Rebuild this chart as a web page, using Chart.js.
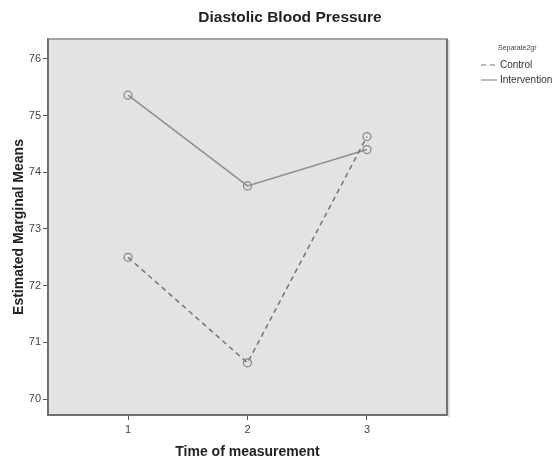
<!DOCTYPE html>
<html>
<head>
<meta charset="utf-8">
<script src="https://cdn.jsdelivr.net/npm/chart.js@4/dist/chart.umd.min.js"></script>
<style>
  html, body { margin: 0; padding: 0; background: #ffffff; }
  #wrap { width: 556px; height: 459px; position: relative; }
</style>
</head>
<body>
<div id="wrap"><canvas id="c" width="556" height="459"></canvas></div>
<script>
// ---- data ----
const chartTitle = "Diastolic Blood Pressure";
const legendTitle = "Separate2gr";
const categories = [1, 2, 3];
const seriesNames = ["Control", "Intervention"];
const controlValues = [72.50, 70.64, 74.63];
const interventionValues = [75.36, 73.76, 74.40];
const yTickValues = [70, 71, 72, 73, 74, 75, 76];
const xTickValues = [1, 2, 3];
const xTitle = "Time of measurement";
const yTitle = "Estimated Marginal Means";

const FONT = "'Liberation Sans', Arial, sans-serif";

const toPoints = (vals) => categories.map((c, i) => ({ x: c, y: vals[i] }));

const plotBg = {
  id: 'plotBg',
  beforeDraw(chart) {
    const { ctx, chartArea: a } = chart;
    ctx.save();
    ctx.fillStyle = '#e2e3e5';
    ctx.fillRect(a.left, a.top, a.right - a.left, a.bottom - a.top);
    ctx.restore();
  },
  afterDatasetsDraw(chart) {
    const { ctx, chartArea: a } = chart;
    ctx.save();
    ctx.strokeStyle = '#8a8a8a';
    ctx.lineWidth = 1.5;
    ctx.strokeRect(a.left, a.top, a.right - a.left, a.bottom - a.top);
    ctx.strokeStyle = '#666';
    ctx.lineWidth = 1.5;
    ctx.beginPath();
    ctx.moveTo(a.left, a.top);
    ctx.lineTo(a.left, a.bottom);
    ctx.lineTo(a.right, a.bottom);
    ctx.moveTo(a.right, a.top);
    ctx.lineTo(a.right, a.bottom);
    ctx.stroke();
    ctx.strokeStyle = '#bdbdbd';
    ctx.lineWidth = 1;
    ctx.beginPath();
    ctx.moveTo(a.right + 2, a.top + 1);
    ctx.lineTo(a.right + 2, a.bottom + 2);
    ctx.stroke();
    ctx.restore();
  }
};

const textPlugin = {
  id: 'textPlugin',
  afterDraw(chart) {
    const { ctx } = chart;
    ctx.save();
    // main title
    ctx.fillStyle = '#222';
    ctx.font = `bold 15.5px ${FONT}`;
    ctx.textAlign = 'center';
    ctx.textBaseline = 'middle';
    ctx.fillText(chartTitle, 290, 18);
    // legend
    ctx.textAlign = 'left';
    ctx.fillStyle = '#444';
    ctx.font = `7px ${FONT}`;
    ctx.fillText(legendTitle, 498, 48);
    const ds = chart.data.datasets;
    const rows = [65, 80];
    ds.forEach((d, i) => {
      const y = rows[i];
      ctx.strokeStyle = d.borderColor;
      ctx.lineWidth = 1.2;
      ctx.setLineDash(d.borderDash || []);
      ctx.beginPath();
      ctx.moveTo(481, y);
      ctx.lineTo(497, y);
      ctx.stroke();
      ctx.setLineDash([]);
      ctx.fillStyle = '#333';
      ctx.font = `10px ${FONT}`;
      ctx.fillText(d.label, 500, y);
    });
    ctx.restore();
  }
};

new Chart(document.getElementById('c'), {
  type: 'line',
  data: {
    datasets: [
      {
        label: seriesNames[0],
        data: toPoints(controlValues),
        borderColor: '#727272',
        borderWidth: 1.5,
        borderDash: [5, 4],
        pointRadius: 4,
        pointBorderColor: '#858585',
        pointBackgroundColor: 'rgba(0,0,0,0)',
        pointBorderWidth: 1.2,
        fill: false,
        tension: 0
      },
      {
        label: seriesNames[1],
        data: toPoints(interventionValues),
        borderColor: '#8e8e8e',
        borderWidth: 1.5,
        pointRadius: 4,
        pointBorderColor: '#858585',
        pointBackgroundColor: 'rgba(0,0,0,0)',
        pointBorderWidth: 1.2,
        fill: false,
        tension: 0
      }
    ]
  },
  options: {
    responsive: false,
    animation: false,
    layout: { padding: { left: 0, top: 39, right: 109, bottom: 0 } },
    plugins: {
      legend: { display: false },
      title: { display: false },
      tooltip: { enabled: false }
    },
    scales: {
      x: {
        type: 'linear',
        min: 0.33,
        max: 3.67,
        afterBuildTicks(scale) { scale.ticks = xTickValues.map(v => ({ value: v })); },
        afterFit(scale) { scale.height = 44; },
        grid: { drawOnChartArea: false, drawTicks: true, tickLength: 5, color: '#555', lineWidth: 1 },
        border: { display: true, color: '#666', width: 1.5 },
        ticks: { color: '#444', font: { family: FONT, size: 11 }, padding: 3, maxRotation: 0,
                 callback: v => String(v) },
        title: { display: true, text: xTitle, color: '#222',
                 font: { family: FONT, size: 14, weight: 'bold', lineHeight: 1 }, padding: 0 }
      },
      y: {
        type: 'linear',
        min: 69.72,
        max: 76.35,
        afterBuildTicks(scale) { scale.ticks = yTickValues.map(v => ({ value: v })); },
        afterFit(scale) { scale.width = 48; },
        grid: { drawOnChartArea: false, drawTicks: true, tickLength: 5, color: '#555', lineWidth: 1 },
        border: { display: true, color: '#666', width: 1.5 },
        ticks: { color: '#444', font: { family: FONT, size: 11 }, padding: 2,
                 callback: v => String(v) },
        title: { display: true, text: yTitle, color: '#222',
                 font: { family: FONT, size: 14, weight: 'bold', lineHeight: 1.2 }, padding: { top: 11, bottom: 0 } }
      }
    }
  },
  plugins: [plotBg, textPlugin]
});
</script>
</body>
</html>
